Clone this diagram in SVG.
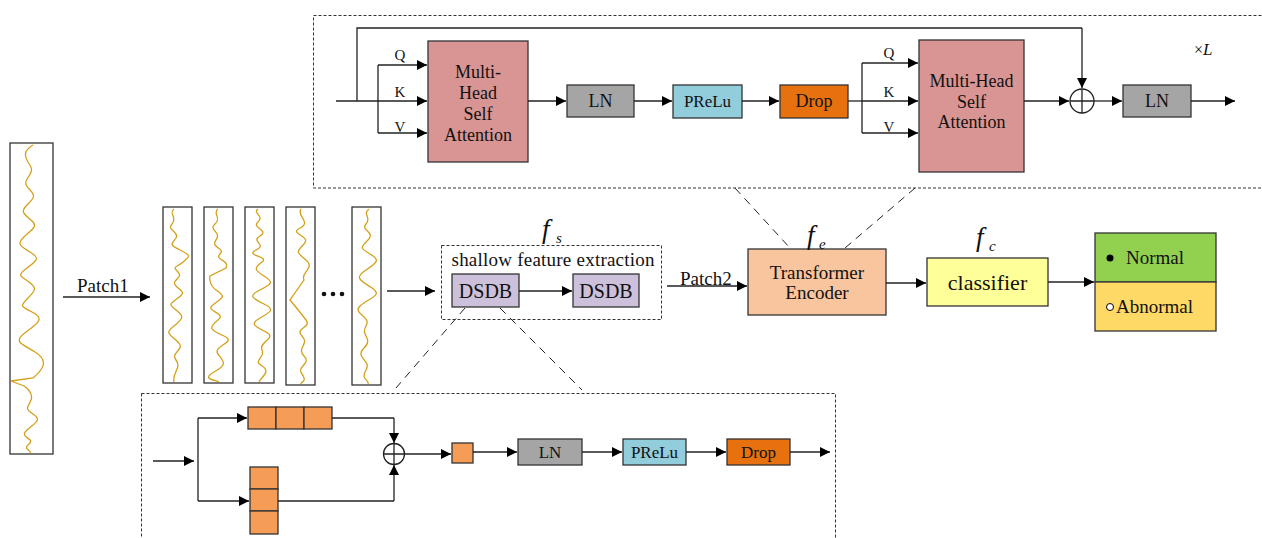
<svg xmlns="http://www.w3.org/2000/svg" width="1262" height="538" viewBox="0 0 1262 538">
<defs>
<marker id="ah" viewBox="0 0 10 10" refX="10" refY="5" markerWidth="10" markerHeight="10" markerUnits="userSpaceOnUse" orient="auto">
<path d="M0,0 L10,5 L0,10 z" fill="#000"/>
</marker>
<style>
text{font-family:"Liberation Serif","Times New Roman",serif;fill:#111;}
.ln{stroke:#222;stroke-width:1.3;fill:none;}
.arr{stroke:#222;stroke-width:1.3;fill:none;marker-end:url(#ah);}
.dash{stroke:#333;stroke-width:1;fill:none;stroke-dasharray:3,2;}
.ldash{stroke:#222;stroke-width:1;fill:none;stroke-dasharray:8,6;}
.box{stroke:#333;stroke-width:1.3;}
.mhsa{fill:#D99594;}
.gray{fill:#A5A5A5;}
.blue{fill:#92CDDC;}
.drop{fill:#E8710F;}
.cell{fill:#F59D56;stroke:#333;stroke-width:1.3;}
.sig{stroke:#D4A017;stroke-width:1.3;fill:none;}
.pbox{fill:#fff;stroke:#333;stroke-width:1.3;}
.t19{font-size:19px;}
.t18{font-size:18px;}
.t17{font-size:17px;}
.t20{font-size:20px;}
.qkv{font-size:15px;}
.fi{font-size:27px;font-style:italic;}
.sub{font-size:15px;font-style:italic;}
</style>
</defs>

<!-- Transformer encoder detail (top) -->
<g id="encoder-detail">
<rect x="313.500" y="15.500" width="960" height="172.500" class="dash"/>
<text x="1194" y="55" font-size="16">×<tspan font-style="italic" font-size="17">L</tspan></text>
</g>
<g id="mhsa1">
<rect x="428" y="41" width="100" height="121" class="box mhsa"/>
<text x="478" y="78" class="t18" text-anchor="middle">Multi-</text>
<text x="478" y="99" class="t18" text-anchor="middle">Head</text>
<text x="478" y="120" class="t18" text-anchor="middle">Self</text>
<text x="478" y="141" class="t18" text-anchor="middle">Attention</text>
<text x="400" y="60" class="qkv" text-anchor="middle">Q</text>
<text x="400" y="97" class="qkv" text-anchor="middle">K</text>
<text x="400" y="132" class="qkv" text-anchor="middle">V</text>
</g>
<g id="ln1"><rect x="567" y="85" width="67" height="32" class="box gray"/><text x="600.500" y="107" class="t18" text-anchor="middle">LN</text></g>
<g id="prelu1"><rect x="673" y="85" width="69" height="33" class="box blue"/><text x="707.500" y="107" class="t17" text-anchor="middle">PReLu</text></g>
<g id="drop1"><rect x="780" y="85" width="68" height="33" class="box drop"/><text x="814" y="107" class="t18" text-anchor="middle">Drop</text></g>
<g id="mhsa2">
<rect x="919" y="40" width="105" height="132" class="box mhsa"/>
<text x="971.500" y="87" class="t18" text-anchor="middle">Multi-Head</text>
<text x="971.500" y="108" class="t18" text-anchor="middle">Self</text>
<text x="971.500" y="128" class="t18" text-anchor="middle">Attention</text>
<text x="889" y="58" class="qkv" text-anchor="middle">Q</text>
<text x="889" y="97" class="qkv" text-anchor="middle">K</text>
<text x="889" y="132" class="qkv" text-anchor="middle">V</text>
</g>
<g id="add1"><circle cx="1082" cy="101" r="12" fill="#fff" class="ln"/><path d="M1070,101 H1094 M1082,89 V113" class="ln"/></g>
<g id="ln2"><rect x="1123" y="85" width="68" height="32" class="box gray"/><text x="1157" y="107" class="t18" text-anchor="middle">LN</text></g>

<!-- Main pipeline -->
<g id="signal">
<rect x="10" y="143" width="43" height="311" class="pbox"/>
<path class="sig" d="M33,145 C24,150 24,156 28,162 S33,170 29,176 S24,184 30,190 S34,198 27,205 S24,214 31,220 S34,228 25,236 S20,246 30,252 S38,260 27,268 S21,276 29,282 S36,290 28,298 S20,306 32,312 S40,322 26,332 S22,344 35,352 S45,368 33,378 L11,381 L24,386 S34,392 31,400 S24,408 33,414 S36,422 27,430 S36,438 29,444 S32,450 30,453"/>
</g>
<g id="patch1"><rect x="163" y="207" width="29" height="176" class="pbox"/>
<path class="sig" d="M174,209 C168,213 178,218 172,224 S180,232 176,238 S168,244 180,250 S190,256 183,262 S172,266 178,272 S170,280 176,286 S186,292 178,298 S168,304 176,310 S184,318 174,326 S170,334 178,342 S170,352 176,360 S172,372 174,382"/></g>
<g id="patch2"><rect x="204" y="207" width="29" height="176" class="pbox"/>
<path class="sig" d="M218,209 C212,213 222,218 215,224 S222,232 216,240 S226,248 220,254 S230,260 226,268 L210,276 S208,284 216,290 S226,296 214,304 S228,312 218,320 S210,330 224,336 S212,346 218,354 S228,364 214,372 S218,380 219,382"/></g>
<g id="patch3"><rect x="245" y="207" width="29" height="176" class="pbox"/>
<path class="sig" d="M258,209 C252,213 265,216 258,222 S270,230 260,236 S268,244 256,250 S270,256 262,262 S254,270 264,276 S272,284 260,290 S252,298 264,304 S270,312 260,318 S254,326 266,332 S258,342 262,350 S252,360 262,366 S260,378 259,382"/></g>
<g id="patch4"><rect x="286" y="207" width="29" height="178" class="pbox"/>
<path class="sig" d="M301,209 C296,216 312,222 300,228 S312,236 304,244 S296,252 306,260 S300,272 304,280 L290,300 S300,312 306,320 S294,328 302,336 S296,348 304,356 S296,366 302,374 S300,382 301,384"/></g>
<g id="patchN"><rect x="352" y="207" width="29" height="178" class="pbox"/>
<path class="sig" d="M369,209 C362,214 372,218 366,224 S376,232 368,240 S360,248 370,254 S378,262 366,270 S360,280 372,288 S368,298 360,306 S372,316 366,326 S374,338 364,348 S372,360 366,370 S370,380 368,384"/></g>
<g id="dots"><circle cx="324" cy="294" r="2.300" fill="#111"/><circle cx="333" cy="294" r="2.300" fill="#111"/><circle cx="342" cy="294" r="2.300" fill="#111"/></g>
<text x="77" y="292" class="t19">Patch1</text>

<g id="shallow">
<rect x="441.500" y="245.500" width="220" height="74" class="dash"/>
<text x="542" y="238" class="fi">f</text><text x="556" y="243" class="sub">s</text>
<text x="553" y="266" class="t19" text-anchor="middle" textLength="203" lengthAdjust="spacing">shallow feature extraction</text>
</g>
<g id="dsdb1"><rect x="452" y="274" width="67" height="33" fill="#CCC0DA" class="box"/><text x="485.500" y="298" class="t20" text-anchor="middle">DSDB</text></g>
<g id="dsdb2"><rect x="573" y="274" width="66" height="33" fill="#CCC0DA" class="box"/><text x="606" y="298" class="t20" text-anchor="middle">DSDB</text></g>
<text x="680" y="285" class="t19">Patch2</text>

<g id="transformer">
<rect x="748" y="249" width="138" height="66" fill="#F8C59E" class="box"/>
<text x="817" y="279" class="t19" text-anchor="middle">Transformer</text>
<text x="817" y="299" class="t19" text-anchor="middle">Encoder</text>
<text x="807" y="244" class="fi">f</text><text x="819" y="249" class="sub">e</text>
</g>
<g id="classifier">
<rect x="927" y="258" width="121" height="48" fill="#FFFF99" class="box"/>
<text x="987.500" y="290" font-size="22" text-anchor="middle">classifier</text>
<text x="976" y="246" class="fi">f</text><text x="989" y="251" class="sub">c</text>
</g>
<g id="output">
<rect x="1095" y="233" width="121" height="49" fill="#92D050" class="box"/>
<rect x="1095" y="282" width="121" height="49" fill="#FFD966" class="box"/>
<circle cx="1110" cy="258" r="3.500" fill="#000"/>
<text x="1126" y="264" class="t19">Normal</text>
<circle cx="1110" cy="307" r="3.500" fill="#fff" stroke="#000" stroke-width="1"/>
<text x="1116" y="313" class="t19">Abnormal</text>
</g>

<!-- DSDB detail (bottom) -->
<g id="dsdb-detail">
<rect x="141.500" y="393.500" width="694" height="160" class="dash"/>
</g>
<g id="hconv"><rect x="248" y="407" width="28" height="22" class="cell"/><rect x="276" y="407" width="28" height="22" class="cell"/><rect x="304" y="407" width="28" height="22" class="cell"/></g>
<g id="vconv"><rect x="250" y="467" width="28" height="22" class="cell"/><rect x="250" y="489" width="28" height="22" class="cell"/><rect x="250" y="511" width="28" height="23" class="cell"/></g>
<g id="add2"><circle cx="394" cy="454" r="10.500" fill="#fff" class="ln"/><path d="M383.500,454 H404.500 M394,443.500 V464.500" class="ln"/></g>
<g id="sq"><rect x="452" y="443" width="21" height="20" class="cell"/></g>
<g id="ln3"><rect x="518" y="439" width="64" height="26" class="box gray"/><text x="550" y="458" class="t17" text-anchor="middle">LN</text></g>
<g id="prelu2"><rect x="623" y="439" width="63" height="26" class="box blue"/><text x="654.500" y="458" class="t17" text-anchor="middle">PReLu</text></g>
<g id="drop2"><rect x="727" y="439" width="63" height="26" class="box drop"/><text x="758.500" y="458" class="t17" text-anchor="middle">Drop</text></g>

<!-- Connectors -->
<g id="connectors">
<path class="ln" d="M336,101 H378"/>
<path class="ln" d="M357,101 V28 H1082"/>
<path class="arr" d="M1082,28 V88"/>
<path class="ln" d="M378,65 V133"/>
<path class="arr" d="M378,65 H427"/>
<path class="arr" d="M378,101 H427"/>
<path class="arr" d="M378,133 H427"/>
<path class="arr" d="M528,101 H566"/>
<path class="arr" d="M634,101 H672"/>
<path class="arr" d="M742,101 H779"/>
<path class="ln" d="M848,101 H862"/>
<path class="ln" d="M862,63 V133"/>
<path class="arr" d="M862,63 H918"/>
<path class="arr" d="M862,101 H918"/>
<path class="arr" d="M862,133 H918"/>
<path class="arr" d="M1024,101 H1069"/>
<path class="arr" d="M1094,101 H1122"/>
<path class="arr" d="M1191,101 H1235"/>
<path class="arr" d="M63,297 H150"/>
<path class="arr" d="M387,291 H435"/>
<path class="arr" d="M519,291 H572"/>
<path class="arr" d="M667,286 H747"/>
<path class="arr" d="M886,283 H926"/>
<path class="arr" d="M1048,282 H1094"/>
<path class="ldash" d="M735,188 L790,248"/>
<path class="ldash" d="M915,188 L845,248"/>
<path class="ldash" d="M465,308 L396,388"/>
<path class="ldash" d="M500,308 L582,390"/>
<path class="arr" d="M153,461 H194"/>
<path class="ln" d="M198,418 V501"/>
<path class="arr" d="M198,418 H247"/>
<path class="arr" d="M198,501 H249"/>
<path class="ln" d="M332,418 H394"/>
<path class="arr" d="M394,418 V443"/>
<path class="ln" d="M278,501 H394"/>
<path class="arr" d="M394,501 V465"/>
<path class="arr" d="M404.500,454 H451"/>
<path class="arr" d="M473,452 H517"/>
<path class="arr" d="M582,452 H622"/>
<path class="arr" d="M686,452 H726"/>
<path class="arr" d="M790,452 H830"/>
</g>
</svg>
